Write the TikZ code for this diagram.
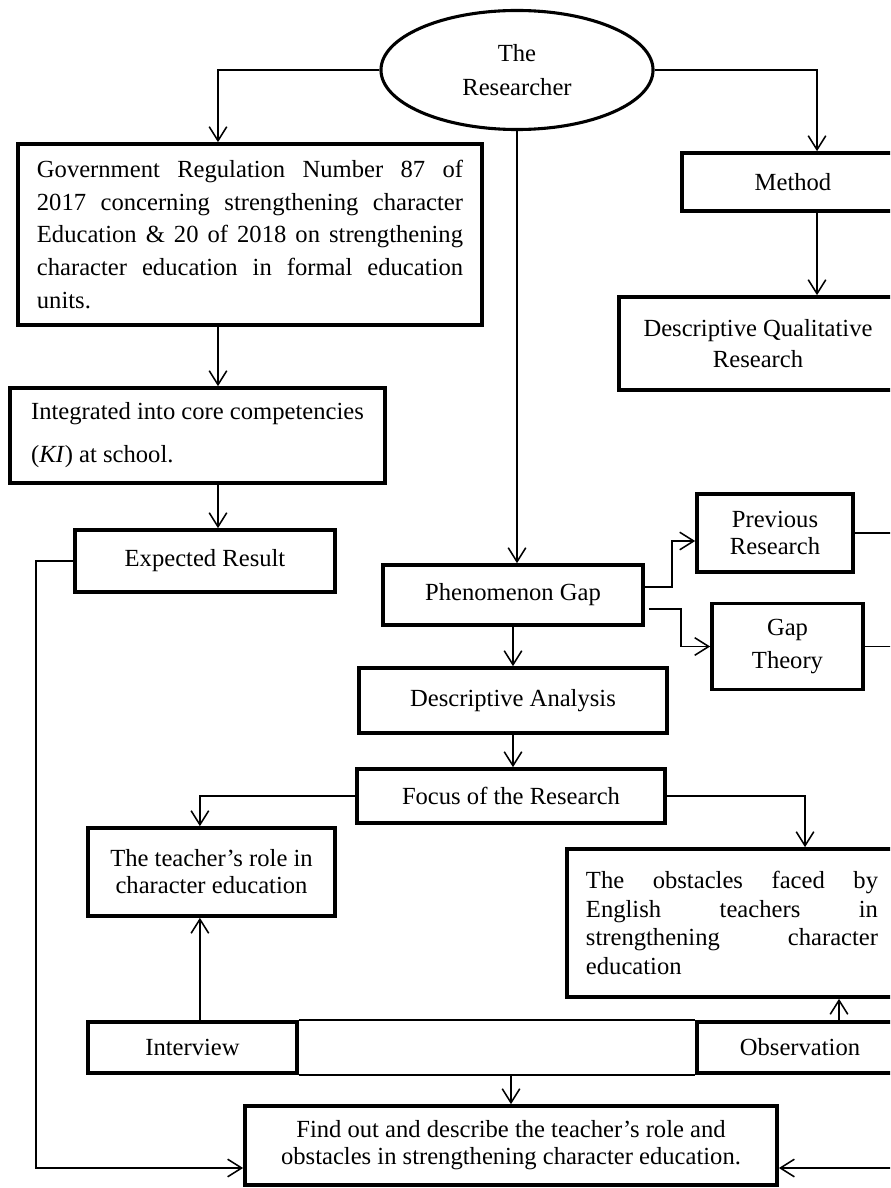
\documentclass[tikz,border=0pt]{standalone}
\usepackage{fontspec}
\setmainfont{Liberation Serif}
\usetikzlibrary{positioning}
\usetikzlibrary{arrows.meta}
\usetikzlibrary{shapes.geometric}
\tikzset{blk/.style = {draw, line width = 2.6pt, inner sep = 0, align = center, font = \fontsize{17.5}{19.2}\selectfont}}
\tikzset{oval/.style = {draw, ellipse, line width = 2.2pt, inner sep = 0, align = center}}
\tikzset{arr/.style = {line width = 1.1pt, -{Straight Barb[length = 3.5mm, width = 4.4mm, line width = 1.1pt]}}}
\tikzset{ln/.style = {line width = 1.1pt}}

\begin{document}
\begin{tikzpicture}[x = 0.025cm, y = -0.025cm]
      \useasboundingbox (0, 0) rectangle (890, 1188);
      \clip (0, 0) rectangle (890, 1188);
      \coordinate (edge) at (910, 0);
      \coordinate (lc) at (36, 1168);
      \node [oval, minimum width = 6.8cm, minimum height = 2.975cm, font = \fontsize{17.5}{24}\selectfont] (res) at (517, 70) {The\\Researcher};
      \node [blk, align = justify, text width = 10.65cm, inner xsep = 0.475cm, minimum height = 4.525cm, font = \fontsize{17.5}{23.2}\selectfont] (gov) at (250, 234.5) {Government Regulation Number 87 of\linebreak 2017 concerning strengthening character\linebreak Education \& 20 of 2018 on strengthening\linebreak character education in formal education\linebreak units.};
      \node [blk, align = left, minimum width = 9.375cm, minimum height = 2.375cm, font = \fontsize{17.5}{30.6}\selectfont] (integ) at (197.5, 435.5) {Integrated into core competencies\\(\textit{KI}) at school.\hspace*{4.2cm}};
      \node [blk, minimum width = 6.5cm, minimum height = 1.55cm] (expres) at (205, 561) {Expected Result};
      \node [blk, minimum width = 5.55cm, minimum height = 1.45cm] (method) at (793, 182) {Method};
      \node [blk, minimum width = 6.95cm, minimum height = 2.325cm, font = \fontsize{17.5}{22}\selectfont] (dqr) at (758, 343.5) {Descriptive Qualitative\\Research};
      \node [blk, minimum width = 3.9cm, minimum height = 1.95cm] (prev) at (775, 533) {Previous\\Research};
      \node [blk, minimum width = 3.775cm, minimum height = 2.15cm, font = \fontsize{17.5}{22.8}\selectfont] (gapth) at (787.5, 646.5) {Gap\\Theory};
      \node [blk, minimum width = 6.5cm, minimum height = 1.5cm] (phen) at (513, 595) {Phenomenon Gap};
      \node [blk, minimum width = 7.7cm, minimum height = 1.625cm] (desc) at (513, 700.5) {Descriptive Analysis};
      \node [blk, minimum width = 7.7cm, minimum height = 1.35cm] (focus) at (511, 796) {Focus of the Research};
      \node [blk, minimum width = 6.175cm, minimum height = 2.2cm] (teach) at (211.5, 872) {The teacher’s role in\\character education};
      \node [blk, align = justify, text width = 7.3cm, inner xsep = 0.475cm, minimum height = 3.7cm, font = \fontsize{17.5}{20.4}\selectfont] (obst) at (732, 923) {The obstacles faced by\linebreak English teachers in\linebreak strengthening character\linebreak education};
      \node [blk, minimum width = 5.225cm, minimum height = 1.275cm] (interv) at (192.5, 1047.5) {Interview};
      \node [blk, minimum width = 5.15cm, minimum height = 1.275cm] (obs) at (800, 1047.5) {Observation};
      \node [blk, minimum width = 13.3cm, minimum height = 1.975cm] (final) at (511, 1145.5) {Find out and describe the teacher’s role and\\obstacles in strengthening character education.};
      \draw [arr] (res.west) -| ([xshift = -0.8cm]gov.north);
      \draw [arr] (res.east) -| ([xshift = 0.6cm]method.north);
      \draw [arr] (res.south) -- (res.south |- phen.north);
      \draw [arr] ([xshift = -0.8cm]gov.south) -- ([xshift = -0.8cm]gov.south |- integ.north);
      \draw [arr] ([xshift = -0.8cm]gov.south |- integ.south) -- ([xshift = -0.8cm]gov.south |- expres.north);
      \draw [arr] ([xshift = 0.6cm]method.south) -- ([xshift = 0.6cm]method.south |- dqr.north);
      \draw [arr] ([yshift = 0.2cm]phen.east) -- ++(27, 0) |- ([yshift = -0.2cm]prev.west);
      \draw [arr] ([xshift = 0.1cm, yshift = -0.35cm]phen.east) -- ++(32, 0) |- (gapth.west);
      \draw [ln] (prev.east) -- (prev.east -| edge);
      \draw [ln] (gapth.east) -- (gapth.east -| edge);
      \draw [arr] (phen.south) -- (phen.south |- desc.north);
      \draw [arr] (desc.south) -- (desc.south |- focus.north);
      \draw [arr] (focus.west) -| ([xshift = -0.29cm]teach.north);
      \draw [arr] (focus.east) -| ([xshift = 1.825cm]obst.north);
      \draw [arr] ([xshift = -0.29cm]teach.south |- interv.north) -- ([xshift = -0.29cm]teach.south);
      \draw [arr] ([xshift = 0.975cm]obs.north) -- ([xshift = 0.975cm]obs.north |- obst.south);
      \draw [ln] (interv.north east) -- (obs.north west);
      \draw [ln] (interv.south east) -- (obs.south west);
      \draw [arr] (final.north |- interv.south) -- (final.north);
      \draw [arr] (expres.west) -| (lc) -- (lc -| final.west);
      \draw [arr] (edge |- lc) -- (lc -| final.east);
\end{tikzpicture}
\end{document}
